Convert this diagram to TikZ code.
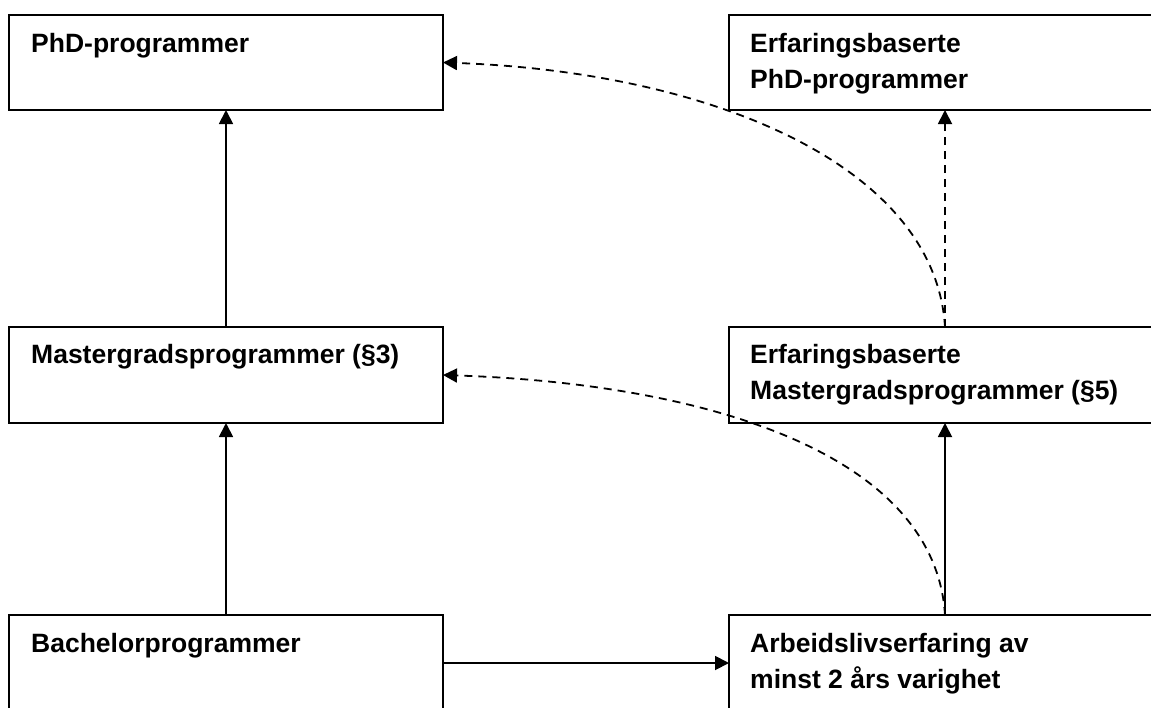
\documentclass[tikz,border=0pt]{standalone}
\usepackage{fontspec}
\setmainfont{Liberation Sans}
\usetikzlibrary{arrows.meta}
\begin{document}
\begin{tikzpicture}[x=1pt,y=-1pt,
  box/.style={draw,line width=1.8pt,anchor=north west,inner sep=0pt,outer sep=0pt,minimum width=#1},
  lbl/.style={anchor=base west,align=left,inner sep=0pt,font=\fontsize{26.5}{36}\selectfont\bfseries},
  arr/.style={line width=1.8pt,-{Triangle[length=14pt,width=14pt]}},
  dasharr/.style={line width=1.8pt,dash pattern=on 8pt off 6pt,-{Triangle[length=14pt,width=14pt]}}]
\useasboundingbox (0,0) rectangle (1151,707);
\node[box=434pt,minimum height=95pt] (phd) at (9,15) {};
\node[box=432pt,minimum height=95pt] (ephd) at (729,15) {};
\node[box=434pt,minimum height=96pt] (mas) at (9,327) {};
\node[box=432pt,minimum height=96pt] (emas) at (729,327) {};
\node[box=434pt,minimum height=96pt] (bach) at (9,615) {};
\node[box=432pt,minimum height=96pt] (arb) at (729,615) {};
\node[lbl] (tphd) at (31,52) {PhD-programmer};
\node[lbl] (tephd) at (750,88) {Erfaringsbaserte\\PhD-programmer};
\node[lbl] (tmas) at (31,363) {Mastergradsprogrammer (§3)};
\node[lbl] (temas) at (750,399) {Erfaringsbaserte\\Mastergradsprogrammer (§5)};
\node[lbl] (tbach) at (31,652) {Bachelorprogrammer};
\node[lbl] (tarb) at (750,688) {Arbeidslivserfaring av\\minst 2 års varighet};
\draw[arr] (mas.north) -- (phd.south);
\draw[arr] (bach.north) -- (mas.south);
\draw[arr] (arb.north) -- (emas.south);
\draw[arr] (bach.east) -- (arb.west);
\draw[dasharr] (emas.north) -- (ephd.south);
\draw[dasharr] (emas.north) .. controls (935,165) and (710,72) .. (phd.east);
\draw[dasharr] (arb.north) .. controls (935,455) and (710,384) .. (mas.east);
\end{tikzpicture}
\end{document}
